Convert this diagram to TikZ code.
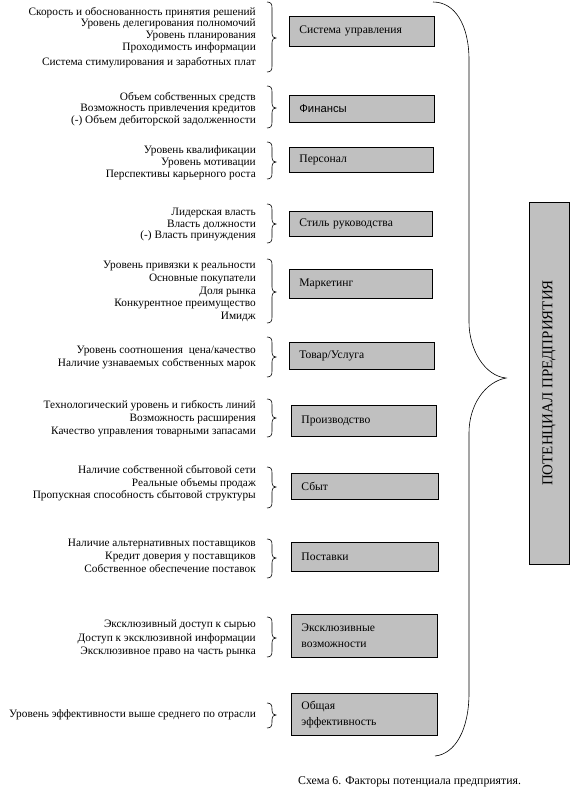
\documentclass[tikz,border=0pt]{standalone}
\usepackage{fontspec}
\setmainfont{Liberation Serif}
\newfontfamily\arialf{Liberation Sans}
\definecolor{boxgray}{HTML}{C0C0C0}
\newcommand\smbr[3]{%
  \draw[brl] (267,#1) .. controls (271,#1) and (272,#1+2) .. (272,#1+6)
    -- (272,#2-5) .. controls (272,#2-1) and (274,#2) .. (276,#2)
    .. controls (274,#2) and (272,#2+1) .. (272,#2+5)
    -- (272,#3-6) .. controls (272,#3-2) and (271,#3) .. (267,#3);}
\begin{document}
\begin{tikzpicture}[x=1pt,y=-1pt,
  lbl/.style={anchor=base east, inner sep=0pt, font=\fontsize{11.3}{13}\selectfont},
  box/.style={draw, line width=0.8pt, fill=boxgray, anchor=north west, align=left,
    inner xsep=10pt, inner ysep=0pt, font=\fontsize{11.6}{16.5}\selectfont},
  brl/.style={line width=0.6pt}]
\useasboundingbox (0,0) rectangle (578,793);
\fill[white] (0,0) rectangle (578,793);

% group 1
\node[lbl] (g1a) at (256,15.5) {Скорость и обоснованность принятия решений};
\node[lbl] (g1b) at (256,26.5) {Уровень делегирования полномочий};
\node[lbl] (g1c) at (256,38.5) {Уровень планирования};
\node[lbl] (g1d) at (256,50) {Проходимость информации};
\node[lbl] (g1e) at (256,65.5) {Система стимулирования и заработных плат};
\smbr{2}{38}{72}
\node[box, text width=125pt, minimum height=30pt] (b1) at (289,16) {Система управления};

% group 2
\node[lbl] (g2a) at (256,100.5) {Объем собственных средств};
\node[lbl] (g2b) at (256,111.5) {Возможность привлечения кредитов};
\node[lbl] (g2c) at (256,123) {(-) Объем дебиторской задолженности};
\smbr{86}{108}{128}
\node[box, text width=125pt, minimum height=27pt, font=\arialf\fontsize{11.3}{13}\selectfont] (b2) at (289,94.5) {Финансы};

% group 3
\node[lbl] (g3a) at (256,153.5) {Уровень квалификации};
\node[lbl] (g3b) at (256,165.5) {Уровень мотивации};
\node[lbl] (g3c) at (256,177.5) {Перспективы карьерного роста};
\smbr{142}{162}{179}
\node[box, text width=124pt, minimum height=25pt] (b3) at (289,147) {Персонал};

% group 4
\node[lbl] (g4a) at (256,215.5) {Лидерская власть};
\node[lbl] (g4b) at (256,227) {Власть должности};
\node[lbl] (g4c) at (256,238.5) {(-) Власть принуждения};
\smbr{204}{224}{243}
\node[box, text width=123pt, minimum height=25pt] (b4) at (289,211) {Стиль руководства};

% group 5
\node[lbl] (g5a) at (256,268.5) {Уровень привязки к реальности};
\node[lbl] (g5b) at (256,281.5) {Основные покупатели};
\node[lbl] (g5c) at (256,294) {Доля рынка};
\node[lbl] (g5d) at (256,306.5) {Конкурентное преимущество};
\node[lbl] (g5e) at (256,319) {Имидж};
\smbr{259}{292}{323}
\node[box, text width=123pt, minimum height=29pt] (b5) at (289,269) {Маркетинг};

% group 6
\node[lbl] (g6a) at (256,353.5) {Уровень соотношения \ цена/качество};
\node[lbl] (g6b) at (256,366.5) {Наличие узнаваемых собственных марок};
\smbr{337}{357}{377}
\node[box, text width=125pt, minimum height=27pt] (b6) at (289,342) {Товар/Услуга};

% group 7
\node[lbl] (g7a) at (256,408.5) {Технологический уровень и гибкость линий};
\node[lbl] (g7b) at (256,421.5) {Возможность расширения};
\node[lbl] (g7c) at (256,434.5) {Качество управления товарными запасами};
\smbr{399}{418}{437}
\node[box, text width=125pt, minimum height=31pt] (b7) at (291,405) {Производство};

% group 8
\node[lbl] (g8a) at (256,473.5) {Наличие собственной сбытовой сети};
\node[lbl] (g8b) at (256,486) {Реальные объемы продаж};
\node[lbl] (g8c) at (256,498.5) {Пропускная способность сбытовой структуры};
\smbr{467}{487}{508}
\node[box, text width=127pt, minimum height=26pt] (b8) at (291,473) {Сбыт};

% group 9
\node[lbl] (g9a) at (256,546.5) {Наличие альтернативных поставщиков};
\node[lbl] (g9b) at (256,559.5) {Кредит доверия у поставщиков};
\node[lbl] (g9c) at (256,572.5) {Собственное обеспечение поставок};
\smbr{539}{558}{578}
\node[box, text width=127pt, minimum height=29pt] (b9) at (291,542) {Поставки};

% group 10
\node[lbl] (g10a) at (256,627.5) {Эксклюзивный доступ к сырью};
\node[lbl] (g10b) at (256,641) {Доступ к эксклюзивной информации};
\node[lbl] (g10c) at (256,654.5) {Эксклюзивное право на часть рынка};
\smbr{617}{638}{657}
\node[box, text width=126pt, minimum height=43pt] (b10) at (291,614) {Эксклюзивные\\возможности};

% group 11
\node[lbl] (g11a) at (256,717.5) {Уровень эффективности выше среднего по отрасли};
\smbr{703}{715}{728}
\node[box, text width=126pt, minimum height=42pt] (b11) at (291,693) {Общая\\эффективность};

% big brace
\draw[brl] (433,2) .. controls (455,2) and (469,25) .. (469,60)
  -- (469,322) .. controls (469,350) and (485,376) .. (506,378)
  .. controls (485,382) and (469,405) .. (469,433)
  -- (469,693) .. controls (469,730) and (455,754) .. (435,756);

% potential box
\node[draw, line width=0.8pt, fill=boxgray, rotate=90, minimum width=362pt, minimum height=40pt,
  inner sep=0pt, font=\fontsize{15}{17}\selectfont] (pot) at (549,383) {ПОТЕНЦИАЛ ПРЕДПРИЯТИЯ};

% caption
\node[anchor=base west, inner sep=0pt, font=\fontsize{11.8}{13}\selectfont] (cap) at (298,784) {Схема 6. Факторы потенциала предприятия.};
\end{tikzpicture}
\end{document}
